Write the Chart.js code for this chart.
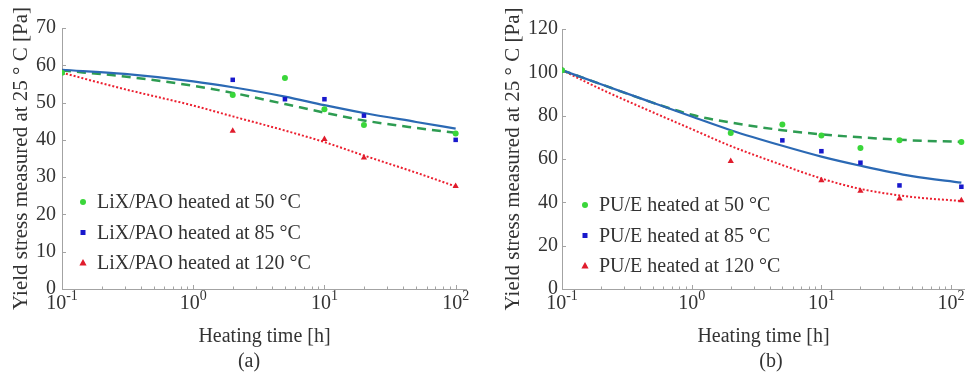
<!DOCTYPE html>
<html>
<head>
<meta charset="utf-8">
<script src="https://cdn.jsdelivr.net/npm/chart.js@4.4.1/dist/chart.umd.min.js"></script>
<style>
  html, body { margin: 0; padding: 0; background: #fff; }
  #wrap { position: relative; width: 969px; height: 379px; overflow: hidden; }
  #wrap canvas { position: absolute; top: 0; }
</style>
</head>
<body>
<div id="wrap">
  <canvas id="chartA" width="480" height="379" style="left:0"></canvas>
  <canvas id="chartB" width="489" height="379" style="left:480px"></canvas>
</div>
<script>
// panel (a): LiX/PAO, measured points
const timesA = [0.1, 2, 5, 10, 20, 100];
const lix50 = [58, 52, 56.6, 48.2, 44, 41.7];
const lix85 = [58, 56.1, 50.9, 50.9, 46.5, 40];
const lix120 = [58, 42.4, null, 40.2, 35.2, 27.6];
// panel (a): fitted curves
const fitTimesA = [0.1, 0.3, 1, 2, 5, 10, 20, 50, 100];
const lix50Fit = [58.6, 57, 54.5, 52.6, 49.6, 47.3, 45.2, 43.2, 41.9];
const lix85Fit = [58.8, 57.7, 55.7, 54.1, 51.6, 49.3, 47.2, 44.8, 43];
const lix120Fit = [58, 53.6, 49.2, 46.3, 42.5, 39.4, 35.8, 31.2, 27.5];

// panel (b): PU/E, measured points
const timesB = [0.1, 2, 5, 10, 20, 40, 120];
const pue50 = [101, 72, 75.9, 70.9, 65.1, 68.6, 67.9];
const pue85 = [101, null, 68.6, 63.6, 58.3, 47.8, 47.2];
const pue120 = [101, 59, null, 50.1, 45.2, 41.7, 40.9];
// panel (b): fitted curves
const fitTimesB = [0.1, 0.2, 0.5, 1, 2, 5, 10, 20, 50, 120];
const pue50Fit = [101, 94.5, 86, 80.4, 76.8, 73.3, 71.4, 70, 68.6, 67.9];
const pue85Fit = [101, 94.5, 86, 79.6, 73.3, 66.1, 61.1, 56.9, 52.1, 49.1];
const pue120Fit = [101, 92.2, 81.6, 73.8, 66, 57.2, 51, 46.2, 42.5, 40.6];

const decadeValues = [0.1, 1, 10, 100];
const decadeExps = ['-1', '0', '1', '2'];

const FONT = '"Liberation Serif", "Times New Roman", serif';
const TEXT = '#333333';
const AXIS = '#a3a3a3';

const GREEN_PT = '#3ad63a';
const BLUE_PT = '#1818cc';
const RED_PT = '#e01c2c';
const GREEN_LN = '#2e9c52';
const BLUE_LN = '#2b69b4';
const RED_LN = '#ec2030';

function pairs(xs, ys) {
  const out = [];
  xs.forEach((x, i) => {
    if (ys[i] !== null) out.push({ x: x, y: ys[i] });
  });
  return out;
}

function drawMarker(ctx, shape, x, y, color) {
  ctx.fillStyle = color;
  ctx.beginPath();
  if (shape === 'circle') {
    ctx.arc(x, y, 3, 0, Math.PI * 2);
  } else if (shape === 'rect') {
    ctx.rect(x - 2.5, y - 2.5, 5, 5);
  } else {
    ctx.moveTo(x, y - 4);
    ctx.lineTo(x + 3.6, y + 2.6);
    ctx.lineTo(x - 3.6, y + 2.6);
    ctx.closePath();
  }
  ctx.fill();
}

// axis lines with inward ticks, log minor ticks on x
const axesPlugin = {
  id: 'matlabAxes',
  beforeDatasetsDraw(chart) {
    const { ctx, chartArea, scales } = chart;
    const x = scales.x, y = scales.y;
    ctx.save();
    ctx.strokeStyle = AXIS;
    ctx.lineWidth = 1;
    ctx.beginPath();
    ctx.moveTo(chartArea.left + 0.5, chartArea.top);
    ctx.lineTo(chartArea.left + 0.5, chartArea.bottom + 0.5);
    ctx.lineTo(chartArea.right, chartArea.bottom + 0.5);
    y.ticks.forEach(t => {
      const py = Math.round(y.getPixelForValue(t.value)) + 0.5;
      ctx.moveTo(chartArea.left, py);
      ctx.lineTo(chartArea.left + 4, py);
    });
    for (let d = 0.1; d < x.max; d *= 10) {
      for (let m = 1; m <= 9; m++) {
        const v = d * m;
        if (v < x.min - 1e-9 || v > x.max) continue;
        const px = Math.round(x.getPixelForValue(v)) + 0.5;
        ctx.moveTo(px, chartArea.bottom);
        ctx.lineTo(px, chartArea.bottom - (m === 1 ? 4 : 2.5));
      }
    }
    ctx.stroke();
    ctx.restore();
  }
};

// "10^n" tick labels with raised exponent
const powerLabels = {
  id: 'powerLabels',
  afterDraw(chart) {
    const { ctx, chartArea, scales } = chart;
    const x = scales.x;
    ctx.save();
    ctx.fillStyle = TEXT;
    ctx.textBaseline = 'alphabetic';
    ctx.textAlign = 'left';
    decadeValues.forEach((v, i) => {
      if (v < x.min - 1e-9 || v > x.max) return;
      const px = x.getPixelForValue(v);
      ctx.font = '20px ' + FONT;
      const w1 = ctx.measureText('10').width;
      ctx.font = '14px ' + FONT;
      const w2 = ctx.measureText(decadeExps[i]).width;
      const left = px - (w1 + w2) / 2;
      const base = chartArea.bottom + 20;
      ctx.font = '20px ' + FONT;
      ctx.fillText('10', left, base);
      ctx.font = '14px ' + FONT;
      ctx.fillText(decadeExps[i], left + w1, base - 9);
    });
    ctx.restore();
  }
};

// legend inside the plot area + panel caption
const panelExtras = {
  id: 'panelExtras',
  afterDraw(chart, args, opts) {
    const ctx = chart.ctx;
    ctx.save();
    ctx.font = '20px ' + FONT;
    ctx.fillStyle = TEXT;
    ctx.textBaseline = 'middle';
    opts.entries.forEach((e, i) => {
      const y = opts.legendY + i * opts.rowGap;
      drawMarker(ctx, e.shape, opts.markerX, y, e.color);
      ctx.fillStyle = TEXT;
      ctx.textAlign = 'left';
      ctx.fillText(e.label, opts.textX, y + 1);
    });
    ctx.textAlign = 'center';
    ctx.fillText(opts.caption, opts.captionX, opts.captionY);
    ctx.restore();
  }
};

function pointSet(label, xs, ys, color, style, radius) {
  return {
    type: 'scatter',
    label: label,
    data: pairs(xs, ys),
    pointStyle: style,
    pointRadius: radius,
    pointBackgroundColor: color,
    pointBorderColor: color,
    pointBorderWidth: 0,
    showLine: false,
    order: 1
  };
}

function fitSet(xs, ys, color, dash, width) {
  return {
    type: 'line',
    data: pairs(xs, ys),
    borderColor: color,
    borderWidth: width,
    borderDash: dash,
    pointRadius: 0,
    cubicInterpolationMode: 'monotone',
    fill: false,
    order: 2
  };
}

function makePanel(canvasId, p) {
  const datasets = [
    fitSet(p.fitTimes, p.fit85, BLUE_LN, [], 2.2),
    fitSet(p.fitTimes, p.fit50, GREEN_LN, [9, 6], 2.5),
    fitSet(p.fitTimes, p.fit120, RED_LN, [2, 2], 2),
    pointSet(p.labels[0], p.times, p.s50, GREEN_PT, 'circle', 3),
    pointSet(p.labels[1], p.times, p.s85, BLUE_PT, 'rect', 3.2),
    pointSet(p.labels[2], p.times, p.s120, RED_PT, 'triangle', 3.6)
  ];

  return new Chart(document.getElementById(canvasId), {
    data: { datasets: datasets },
    options: {
      responsive: false,
      animation: false,
      events: [],
      layout: { padding: { top: p.top, right: p.right, left: 0, bottom: 0 } },
      plugins: {
        legend: { display: false },
        tooltip: { enabled: false },
        panelExtras: {
          entries: [
            { label: p.labels[0], shape: 'circle', color: GREEN_PT },
            { label: p.labels[1], shape: 'rect', color: BLUE_PT },
            { label: p.labels[2], shape: 'triangle', color: RED_PT }
          ],
          markerX: p.markerX,
          textX: p.textX,
          legendY: p.legendY,
          rowGap: 30.5,
          caption: p.caption,
          captionX: p.captionX,
          captionY: 362
        }
      },
      scales: {
        x: {
          type: 'logarithmic',
          min: 0.1,
          max: p.xMax,
          grid: { display: false, drawTicks: false },
          border: { display: false },
          ticks: { display: false },
          title: {
            display: true,
            text: 'Heating time [h]',
            color: TEXT,
            font: { family: FONT, size: 20 },
            padding: { top: 0, bottom: 30 }
          },
          afterFit: s => { s.height = 90; }
        },
        y: {
          min: 0,
          max: p.yMax,
          grid: { display: false, drawTicks: false },
          border: { display: false },
          ticks: {
            stepSize: p.yStep,
            color: TEXT,
            padding: p.yPad,
            font: { family: FONT, size: 20 }
          },
          title: {
            display: true,
            text: 'Yield stress measured at 25 \u00B0 C [Pa]',
            color: TEXT,
            font: { family: FONT, size: 21 },
            padding: { top: p.titlePad, bottom: 0 }
          },
          afterFit: s => { s.width = p.yWidth; }
        }
      }
    },
    plugins: [axesPlugin, powerLabels, panelExtras]
  });
}

makePanel('chartA', {
  times: timesA, s50: lix50, s85: lix85, s120: lix120,
  fitTimes: fitTimesA, fit50: lix50Fit, fit85: lix85Fit, fit120: lix120Fit,
  labels: ['LiX/PAO heated at 50 \u00B0C', 'LiX/PAO heated at 85 \u00B0C', 'LiX/PAO heated at 120 \u00B0C'],
  xMax: 122, yMax: 70, yStep: 10, yPad: 6, yWidth: 62, titlePad: 9,
  top: 28, right: 13,
  markerX: 83, textX: 97, legendY: 202,
  caption: '(a)', captionX: 249
});

makePanel('chartB', {
  times: timesB, s50: pue50, s85: pue85, s120: pue120,
  fitTimes: fitTimesB, fit50: pue50Fit, fit85: pue85Fit, fit120: pue120Fit,
  labels: ['PU/E heated at 50 \u00B0C', 'PU/E heated at 85 \u00B0C', 'PU/E heated at 120 \u00B0C'],
  xMax: 128, yMax: 120, yStep: 20, yPad: 4, yWidth: 82, titlePad: 21,
  top: 29, right: 0,
  markerX: 105, textX: 119, legendY: 205,
  caption: '(b)', captionX: 291
});
</script>
</body>
</html>
